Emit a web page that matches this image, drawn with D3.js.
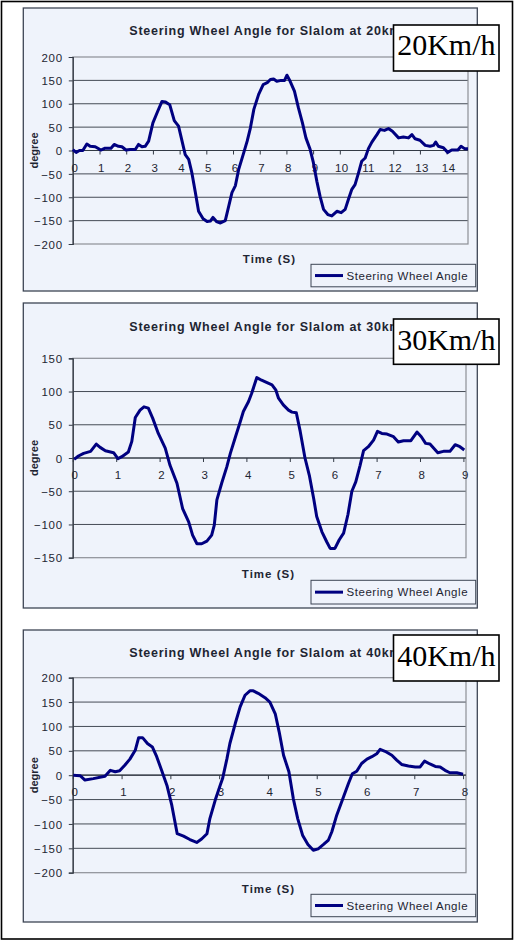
<!DOCTYPE html>
<html><head><meta charset="utf-8">
<script src="https://cdn.jsdelivr.net/npm/d3@7"></script>
<style>
html,body{margin:0;padding:0;background:#fff;}
svg{display:block;font-family:"Liberation Sans",Arial,sans-serif;}
</style></head>
<body>
<svg id="c" width="514" height="941"></svg>
<script>
// ---------- DATA ----------
const titles = ["Steering Wheel Angle for Slalom at 20km/h","Steering Wheel Angle for Slalom at 30km/h","Steering Wheel Angle for Slalom at 40km/h"];
const speedLabels = ["20Km/h","30Km/h","40Km/h"];
const seriesName = "Steering Wheel Angle";
const xTitle = "Time (S)";
const yTitle = "degree";

const t20 = [0,0.125,0.25,0.375,0.525,0.65,0.84,1.05,1.21,1.43,1.55,1.71,1.84,1.99,2.15,2.34,2.46,2.59,2.71,2.84,3.0,3.18,3.34,3.46,3.63,3.8,3.96,4.21,4.34,4.46,4.59,4.71,4.88,5.03,5.15,5.25,5.38,5.53,5.71,5.84,5.96,6.09,6.21,6.4,6.53,6.65,6.78,6.96,7.13,7.28,7.4,7.52,7.64,7.8,7.93,8.02,8.14,8.3,8.45,8.6,8.73,8.89,9.01,9.14,9.26,9.39,9.55,9.7,9.89,10.05,10.2,10.32,10.45,10.57,10.7,10.82,10.95,11.07,11.2,11.39,11.51,11.67,11.82,11.97,12.2,12.38,12.57,12.7,12.82,13.0,13.2,13.38,13.51,13.59,13.69,13.88,14.04,14.19,14.42,14.54,14.67,14.8];
const v20 = [2,-4,0,0,14,9,8,1,5,5,13,9,8,1,2,2,13,8,9,20,59,84,105,104,98,64,52,-9,-19,-48,-90,-130,-146,-152,-151,-143,-152,-155,-150,-119,-90,-75,-41,-5,20,48,88,120,141,145,152,153,148,150,150,161,148,127,91,59,27,2,-26,-66,-98,-126,-137,-140,-130,-133,-126,-105,-83,-73,-48,-23,-16,4,18,34,45,43,47,41,27,29,27,34,25,22,11,9,11,18,9,6,-4,1,1,9,4,4];

const t30 = [0.03,0.13,0.25,0.41,0.54,0.63,0.75,0.94,1.04,1.13,1.28,1.36,1.44,1.55,1.64,1.74,1.84,1.97,2.13,2.24,2.4,2.53,2.67,2.76,2.86,2.97,3.09,3.2,3.26,3.32,3.43,3.55,3.63,3.74,3.86,3.93,4.05,4.12,4.24,4.35,4.45,4.59,4.68,4.74,4.85,4.97,5.05,5.15,5.24,5.35,5.45,5.55,5.62,5.74,5.85,5.93,6.04,6.14,6.24,6.34,6.43,6.52,6.62,6.7,6.81,6.93,7.02,7.12,7.24,7.39,7.5,7.62,7.79,7.93,8.03,8.13,8.23,8.41,8.54,8.69,8.81,8.92,9.02];
const v30 = [-2,3,7,10,21,16,11,8,-1,2,9,25,61,72,77,75,60,37,15,-11,-38,-76,-96,-116,-129,-129,-125,-116,-101,-63,-38,-13,7,30,55,70,85,97,121,117,114,110,102,90,80,72,69,68,40,0,-26,-61,-88,-111,-126,-136,-136,-123,-113,-85,-50,-36,-11,11,17,27,40,37,36,32,24,26,26,39,32,22,21,8,10,10,20,17,12];

const t40 = [0.01,0.15,0.25,0.42,0.66,0.77,0.87,0.96,1.07,1.17,1.28,1.35,1.43,1.53,1.63,1.72,1.82,1.93,2.03,2.14,2.27,2.4,2.54,2.64,2.75,2.81,2.92,3.02,3.07,3.16,3.22,3.33,3.43,3.53,3.63,3.7,3.8,3.94,4.04,4.15,4.23,4.32,4.43,4.52,4.61,4.71,4.82,4.93,5.03,5.14,5.24,5.31,5.41,5.55,5.65,5.73,5.82,5.92,6.03,6.13,6.23,6.3,6.4,6.54,6.64,6.74,6.88,7.02,7.12,7.21,7.32,7.43,7.53,7.63,7.73,7.87,8.0];
const v40 = [0,-1,-10,-7,-2,10,7,9,21,33,51,77,77,65,58,38,10,-21,-62,-120,-125,-132,-138,-131,-120,-89,-51,-21,-7,34,65,106,140,164,173,173,168,159,150,126,89,41,7,-48,-89,-123,-142,-154,-151,-142,-133,-116,-82,-44,-17,3,8,24,33,38,44,53,49,41,31,22,19,17,17,29,23,18,17,10,5,5,2];

const xMaxes = [14.8, 9.06, 8.06];
const xTicks20 = [0,1,2,3,4,5,6,7,8,9,10,11,12,13,14];
const xTicks30 = [0,1,2,3,4,5,6,7,8,9];
const xTicks40 = [0,1,2,3,4,5,6,7,8];
const yTicks20 = [-200,-150,-100,-50,0,50,100,150,200];
const yTicks30 = [-150,-100,-50,0,50,100,150];
const yTicks40 = [-200,-150,-100,-50,0,50,100,150,200];

// ---------- LAYOUT ----------
const layout = [
  {cy:8,  ch:283, pt:57,    pb:244,   pr:468, titleY:35,    boxY:25,  boxH:46, boxTY:55,    xtY:263, legY:264.3, legH:22.5},
  {cy:303,ch:305, pt:358.3, pb:557.7, pr:466, titleY:330.7, boxY:319, boxH:45.3, boxTY:349.5, xtY:578, legY:580.3, legH:23.7},
  {cy:630,ch:292, pt:677.7, pb:872.7, pr:466, titleY:657,   boxY:635, boxH:46, boxTY:665.5, xtY:893, legY:894.3, legH:22.4}
];
const data = [
  {t:t20, v:v20, xt:xTicks20, yt:yTicks20},
  {t:t30, v:v30, xt:xTicks30, yt:yTicks30},
  {t:t40, v:v40, xt:xTicks40, yt:yTicks40}
];

const svg = d3.select("#c");
const BG = "#eff3fb", NAVY = "#000080", TXT = "#1e2532";

// outer frame
svg.append("rect").attr("x",1.5).attr("y",1.5).attr("width",511).attr("height",937.5)
  .attr("fill","none").attr("stroke","#000").attr("stroke-width",1.6);

data.forEach((d,i) => {
  const L = layout[i];
  const g = svg.append("g");
  const cx = 23.3, cw = 454;
  const pl = 72.8;
  // chart area
  g.append("rect").attr("x",cx).attr("y",L.cy).attr("width",cw).attr("height",L.ch)
    .attr("fill",BG).attr("stroke","#3d4554").attr("stroke-width",1.3);

  const x = d3.scaleLinear().domain([0, xMaxes[i]]).range([pl, L.pr]);
  const y = d3.scaleLinear().domain([d.yt[0], d.yt[d.yt.length-1]]).range([L.pb, L.pt]);

  // gridlines (interior)
  g.append("g").selectAll("line").data(d.yt.slice(1,-1)).join("line")
    .attr("x1",pl).attr("x2",L.pr).attr("y1",v=>y(v)).attr("y2",v=>y(v))
    .attr("stroke","#454b55").attr("stroke-width",1);
  // plot border
  g.append("rect").attr("x",pl).attr("y",L.pt).attr("width",L.pr-pl).attr("height",L.pb-L.pt)
    .attr("fill","none").attr("stroke","#8c8f96").attr("stroke-width",1.2);

  // y axis
  const yAxis = d3.axisLeft(y).tickValues(d.yt).tickSize(4).tickPadding(6).tickFormat(d3.format("d"));
  const ya = g.append("g").attr("transform",`translate(${pl},0)`).call(yAxis);
  ya.select(".domain").attr("stroke","#333a45").attr("stroke-width",1.2);
  ya.selectAll(".tick line").attr("stroke","#333a45");
  ya.selectAll("text").attr("fill",TXT).style("font-size","11.5px").style("letter-spacing","0.7px")
    .style("font-family","'Liberation Sans',Arial,sans-serif").attr("dy","0.36em");

  // x axis at y=0
  const xAxis = d3.axisBottom(x).tickValues(d.xt).tickSize(4).tickPadding(9).tickFormat(d3.format("d"));
  const xa = g.append("g").attr("transform",`translate(0,${y(0)})`).call(xAxis);
  xa.select(".domain").attr("stroke","#333a45").attr("stroke-width",1.2).attr("d",`M${pl},0H${L.pr}`);
  xa.selectAll(".tick line").attr("stroke","#333a45");
  xa.selectAll("text").attr("fill",TXT).attr("dx","1.5").style("font-size","11.5px").style("letter-spacing","0.4px")
    .style("font-family","'Liberation Sans',Arial,sans-serif");

  // axis titles
  g.append("text").attr("x",(pl+L.pr)/2 - 1).attr("y",L.xtY).attr("text-anchor","middle")
    .attr("fill",TXT).style("font-size","11.5px").style("font-weight","bold").style("letter-spacing","1px")
    .text(xTitle);
  g.append("text").attr("transform",`translate(37.5,${(L.pt+L.pb)/2}) rotate(-90)`).attr("text-anchor","middle")
    .attr("fill",TXT).style("font-size","11px").style("font-weight","bold").text(yTitle);

  // series line
  const pts = d.t.map((t,k)=>[t,d.v[k]]);
  g.append("path").datum(pts)
    .attr("d", d3.line().x(p=>x(p[0])).y(p=>y(p[1])))
    .attr("fill","none").attr("stroke",NAVY).attr("stroke-width",3).attr("stroke-linejoin","round");

  // legend
  const lx = 311, lw = 164.7;
  g.append("rect").attr("x",lx).attr("y",L.legY).attr("width",lw).attr("height",L.legH)
    .attr("fill",BG).attr("stroke","#3d4554").attr("stroke-width",1);
  const lyc = L.legY + L.legH/2;
  g.append("line").attr("x1",315).attr("x2",343).attr("y1",lyc).attr("y2",lyc)
    .attr("stroke",NAVY).attr("stroke-width",3);
  g.append("text").attr("x",346.5).attr("y",lyc+4.2).attr("fill",TXT)
    .style("font-size","11.5px").style("letter-spacing","0.55px").text(seriesName);

  // chart title
  g.append("text").attr("x",129.3).attr("y",L.titleY).attr("fill",TXT)
    .style("font-size","12.5px").style("font-weight","bold").style("letter-spacing","0.75px").text(titles[i]);

  // speed label box
  g.append("rect").attr("x",393.5).attr("y",L.boxY).attr("width",105.5).attr("height",L.boxH)
    .attr("fill","#fff").attr("stroke","#000").attr("stroke-width",1.6);
  g.append("text").attr("x",446.3).attr("y",L.boxTY).attr("text-anchor","middle").attr("fill","#000")
    .style("font-family","'Liberation Serif','Times New Roman',serif").style("font-size","30px").text(speedLabels[i]);
});
</script>
</body></html>
